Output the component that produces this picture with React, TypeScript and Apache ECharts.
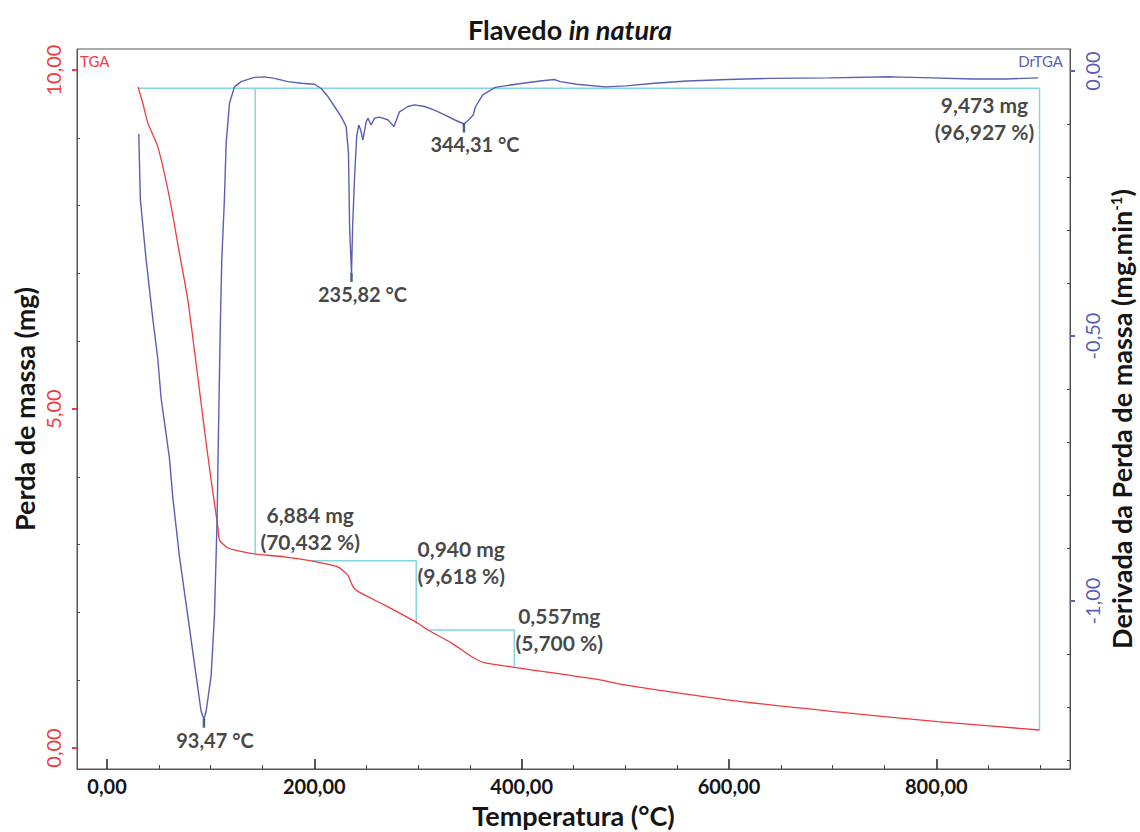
import React, { useEffect, useRef } from "react";
import * as echarts from "echarts";

// ---------- data ----------
const tgaTemp = [29.9, 34.5, 39.3, 48.9, 60.1, 69.8, 77.9, 87.5, 93.9, 100.4, 106.9, 108.4, 116.5, 129.3, 143.8, 170.8, 196.9, 222.7, 232.3, 237.2, 242.0, 267.4, 299.9, 309.6, 332.0, 351.4, 363.9, 392.9, 428.6, 476.8, 499.0, 598.5, 698.8, 801.2, 899.6];
const tgaMass = [9.75, 9.51, 9.22, 8.87, 8.13, 7.30, 6.61, 5.48, 4.70, 3.95, 3.26, 3.07, 2.95, 2.90, 2.86, 2.82, 2.76, 2.67, 2.55, 2.38, 2.31, 2.11, 1.84, 1.74, 1.55, 1.35, 1.26, 1.19, 1.11, 1.00, 0.93, 0.71, 0.54, 0.39, 0.265];

const dtgTemp = [30.6, 32.1, 37.6, 44.1, 48.9, 52.1, 60.1, 63.4, 69.8, 77.9, 85.9, 90.7, 93.47, 95.6, 100.4, 103.6, 105.2, 106.2, 107.4, 108.4, 109.4, 110.7, 113.2, 114.9, 118.1, 122.9, 129.3, 142.2, 151.8, 161.5, 174.4, 187.3, 200.1, 206.6, 213.0, 219.4, 225.9, 230.7, 232.9, 234.0, 235.82, 236.9, 238.8, 240.8, 242.8, 244.6, 246.8, 250.0, 251.6, 254.8, 258.0, 262.8, 270.9, 276.7, 282.1, 290.3, 296.6, 306.3, 315.9, 325.6, 335.2, 344.31, 349.0, 353.2, 355.5, 362.5, 374.4, 394.1, 417.8, 431.5, 437.3, 453.2, 480.7, 500.5, 528, 559.6, 598.9, 638.3, 697.5, 756.6, 796, 835.3, 866.8, 898.4];
const dtgRate = [-0.119, -0.242, -0.355, -0.467, -0.542, -0.617, -0.729, -0.804, -0.916, -1.028, -1.141, -1.208, -1.223, -1.208, -1.141, -1.028, -0.916, -0.841, -0.692, -0.579, -0.467, -0.355, -0.242, -0.136, -0.061, -0.030, -0.020, -0.012, -0.011, -0.014, -0.020, -0.023, -0.025, -0.033, -0.048, -0.067, -0.086, -0.105, -0.155, -0.294, -0.382, -0.294, -0.199, -0.124, -0.102, -0.111, -0.130, -0.096, -0.089, -0.102, -0.089, -0.087, -0.092, -0.105, -0.077, -0.067, -0.064, -0.067, -0.074, -0.083, -0.092, -0.100, -0.092, -0.083, -0.067, -0.045, -0.031, -0.025, -0.019, -0.016, -0.020, -0.025, -0.030, -0.028, -0.023, -0.019, -0.016, -0.014, -0.013, -0.011, -0.013, -0.015, -0.015, -0.013];

// step (mass loss) guide lines, TGA coordinates
const stepTotalT = [29.9, 899.6, 899.6];
const stepTotalM = [9.73, 9.73, 0.265];
const step1T = [142.9, 142.9];
const step1M = [9.73, 2.86];
const step2T = [196.9, 298.3, 298.3];
const step2M = [2.76, 2.76, 1.83];
const step3T = [309.8, 392.9, 392.9];
const step3M = [1.74, 1.74, 1.19];

// peak markers on DrTGA
const peakTemp = [93.47, 235.82, 344.31];
const peakRate = [-1.223, -0.382, -0.100];
const peakLabels = ["93,47 °C", "235,82 °C", "344,31 °C"];

// mass loss annotations
const annT = [196, 341.7, 436.3, 846.5];
const annM = [3.245, 2.74, 1.755, 9.29];
const annText = ["6,884 mg\n(70,432 %)", "0,940 mg\n(9,618 %)", "0,557mg\n(5,700 %)", "9,473 mg\n(96,927 %)"];

// ticks
const xMajor = [0, 200, 400, 600, 800];
const xMinor = [50, 100, 150, 250, 300, 350, 450, 500, 550, 650, 700, 750, 850, 900];
const yLeftMajor = [0, 5, 10];
const yLeftMinor = [1, 2, 3, 4, 6, 7, 8, 9];
const yRightMajor = [0, -0.5, -1];
const yRightMinor = [-0.1, -0.2, -0.3, -0.4, -0.6, -0.7, -0.8, -0.9, -1.1, -1.2, -1.3];

// ---------- style ----------
const FONT = "Lato";
const RED = "#f03a3e";
const BLUE = "#5a5fb4";
const CYAN = "#86d4df";
const AXIS = "#555555";
const TEXT = "#151515";

const fmt = (v: number) => v.toFixed(2).replace(".", ",").replace("-0,00", "0,00");
const zip = (a: number[], b: number[]) => a.map((v, i) => [v, b[i]]);

export default function App() {
  const ref = useRef<HTMLDivElement>(null);
  useEffect(() => {
    document.body.style.margin = "0";
    const chart = echarts.init(ref.current!, null, { renderer: "svg" });
    const stepSeries = [
      [stepTotalT, stepTotalM],
      [step1T, step1M],
      [step2T, step2M],
      [step3T, step3M],
    ].map(([t, m]) => ({
      type: "line",
      xAxisIndex: 0,
      yAxisIndex: 0,
      data: zip(t, m),
      showSymbol: false,
      symbol: "none",
      lineStyle: { color: CYAN, width: 1.5 },
      z: 2,
      silent: true,
    }));

    const option: any = {
      animation: false,
      backgroundColor: "#ffffff",
      title: [
        {
          text: "{b|Flavedo }{i|in natura}",
          left: "center",
          top: 11,
          textStyle: {
            fontSize: 27,
            rich: {
              b: { fontFamily: FONT, fontSize: 27, fontWeight: "bold", color: TEXT },
              i: { fontFamily: FONT, fontSize: 27, fontWeight: "bold", fontStyle: "italic", color: TEXT },
            },
          },
        },
        {
          text: "TGA",
          left: 80,
          top: 53,
          padding: 0,
          textStyle: { fontFamily: FONT, fontSize: 15, fontWeight: "normal", color: RED },
        },
        {
          text: "DrTGA",
          right: 77,
          top: 53,
          padding: 0,
          textStyle: { fontFamily: FONT, fontSize: 15, fontWeight: "normal", color: BLUE },
        },
      ],
      grid: {
        left: 77,
        right: 70,
        top: 49,
        bottom: 63,
        containLabel: false,
        outerBoundsMode: "none",
        show: true,
        borderColor: AXIS,
        borderWidth: 1,
        backgroundColor: "transparent",
      },
      xAxis: [
        {
          type: "value",
          min: -29,
          max: 929,
          position: "bottom",
          axisLine: { show: true, onZero: false, lineStyle: { color: AXIS } },
          axisTick: { show: true, inside: true, length: 10, customValues: xMajor, lineStyle: { color: "#222", width: 1.5 } },
          axisLabel: {
            show: true,
            customValues: xMajor,
            formatter: (v: number) => fmt(v),
            fontFamily: FONT,
            fontSize: 20,
            fontWeight: "bold",
            color: TEXT,
            margin: 7,
          },
          splitLine: { show: false },
          name: "Temperatura (°C)",
          nameLocation: "middle",
          nameGap: 33,
          nameMoveOverlap: false,
          nameTextStyle: { fontFamily: FONT, fontSize: 27, fontWeight: "bold", color: TEXT },
        },
        {
          type: "value",
          min: -29,
          max: 929,
          position: "bottom",
          axisLine: { show: false, onZero: false },
          axisTick: { show: true, inside: true, length: 4, customValues: xMinor, lineStyle: { color: "#444" } },
          axisLabel: { show: false },
          splitLine: { show: false },
        },
      ],
      yAxis: [
        {
          type: "value",
          min: -0.31,
          max: 10.31,
          position: "left",
          axisLine: { show: true, onZero: false, lineStyle: { color: AXIS } },
          axisTick: { show: true, inside: false, length: 5, customValues: yLeftMajor, lineStyle: { color: RED, width: 2 } },
          axisLabel: {
            show: true,
            customValues: yLeftMajor,
            formatter: (v: number) => fmt(v),
            rotate: 90,
            fontFamily: FONT,
            fontSize: 20,
            color: RED,
            margin: 14,
          },
          splitLine: { show: false },
          name: "Perda de massa (mg)",
          nameLocation: "middle",
          nameGap: 39,
          nameMoveOverlap: false,
          nameTextStyle: { fontFamily: FONT, fontSize: 27, fontWeight: "bold", color: TEXT },
        },
        {
          type: "value",
          min: -1.317,
          max: 0.0415,
          position: "right",
          axisLine: { show: true, onZero: false, lineStyle: { color: AXIS } },
          axisTick: { show: true, inside: false, length: 5, customValues: yRightMajor, lineStyle: { color: BLUE, width: 2 } },
          axisLabel: {
            show: true,
            customValues: yRightMajor,
            formatter: (v: number) => fmt(v),
            rotate: 90,
            fontFamily: FONT,
            fontSize: 20,
            color: BLUE,
            margin: 12,
          },
          splitLine: { show: false },
          name: "Derivada da Perda de massa (mg.min{s|-1})",
          nameLocation: "middle",
          nameGap: 38,
          nameMoveOverlap: false,
          nameTextStyle: {
            fontFamily: FONT,
            fontSize: 27,
            fontWeight: "bold",
            color: TEXT,
            padding: [0, 20, 0, 0],
            rich: {
              s: { fontFamily: FONT, fontSize: 15, fontWeight: "bold", color: TEXT, verticalAlign: "top", padding: [0, 0, 12, 0] },
            },
          },
        },
        {
          type: "value",
          min: -0.31,
          max: 10.31,
          position: "left",
          axisLine: { show: false, onZero: false },
          axisTick: { show: true, inside: true, length: 3, customValues: yLeftMinor, lineStyle: { color: "#444" } },
          axisLabel: { show: false },
          splitLine: { show: false },
        },
        {
          type: "value",
          min: -1.317,
          max: 0.0415,
          position: "right",
          axisLine: { show: false, onZero: false },
          axisTick: { show: true, inside: true, length: 3, customValues: yRightMinor, lineStyle: { color: "#444" } },
          axisLabel: { show: false },
          splitLine: { show: false },
        },
      ],
      series: [
        ...stepSeries,
        {
          name: "TGA",
          type: "line",
          xAxisIndex: 0,
          yAxisIndex: 0,
          data: zip(tgaTemp, tgaMass),
          showSymbol: false,
          symbol: "none",
          smooth: 0.2,
          lineStyle: { color: RED, width: 1.3 },
          z: 3,
        },
        {
          name: "DrTGA",
          type: "line",
          xAxisIndex: 0,
          yAxisIndex: 1,
          data: zip(dtgTemp, dtgRate),
          showSymbol: false,
          symbol: "none",
          lineStyle: { color: BLUE, width: 1.4 },
          z: 3,
        },
        {
          name: "Picos",
          type: "scatter",
          xAxisIndex: 0,
          yAxisIndex: 1,
          data: zip(peakTemp, peakRate),
          symbol: "rect",
          symbolSize: [2.5, 9],
          symbolOffset: [0, 4],
          itemStyle: { color: "#1d3a70" },
          label: {
            show: true,
            position: "bottom",
            distance: 2,
            offset: [11, 0],
            formatter: (p: any) => peakLabels[p.dataIndex],
            fontFamily: FONT,
            fontSize: 20,
            fontWeight: "bold",
            color: TEXT,
          },
          z: 4,
        },
        {
          name: "Perdas",
          type: "scatter",
          xAxisIndex: 0,
          yAxisIndex: 0,
          data: zip(annT, annM),
          symbolSize: 1,
          itemStyle: { color: "rgba(0,0,0,0)" },
          label: {
            show: true,
            position: "inside",
            formatter: (p: any) => annText[p.dataIndex],
            fontFamily: FONT,
            fontSize: 21,
            fontWeight: "bold",
            lineHeight: 27,
            align: "center",
            color: TEXT,
          },
          z: 4,
        },
      ],
    };
    chart.setOption(option);
    return () => chart.dispose();
  }, []);
  return <div ref={ref} style={{ width: 1140, height: 832 }} />;
}
